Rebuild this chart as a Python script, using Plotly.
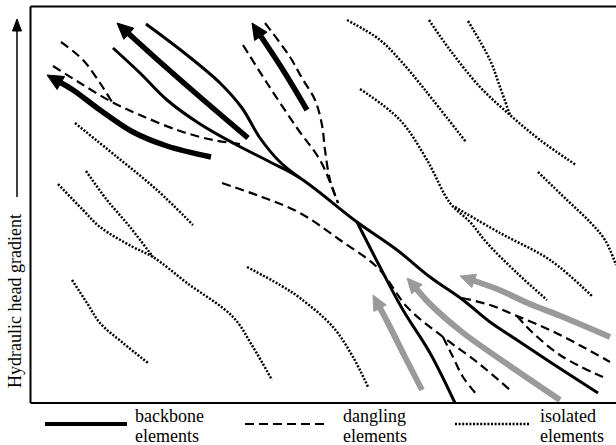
import math
import plotly.graph_objects as go

# ---------------- data (schematic coordinates, image pixel space) ----------------
# backbone elements (solid thin black)
bb_upper_x = [146, 187, 220, 242, 260, 280, 300]
bb_upper_y = [24, 55, 83, 108, 138, 162, 178]
bb_main_x = [113, 140, 167, 200, 233, 270, 300, 357, 397, 430, 463, 490, 517, 547, 598]
bb_main_y = [48, 73, 100, 124, 143, 162, 178, 222, 250, 277, 300, 322, 340, 360, 393]
bb_branch_x = [357, 380, 403, 430, 455]
bb_branch_y = [222, 267, 310, 353, 403]

# backbone flow arrows (thick black), last point = arrow tip
flow1_x = [248, 200, 160, 117]
flow1_y = [138, 97, 62, 23]
flow2_x = [307, 283, 252]
flow2_y = [110, 70, 23]
flow3_x = [211, 167, 133, 100, 73, 47]
flow3_y = [157, 146, 132, 110, 90, 75]

# inflow arrows (grey), last point = arrow tip
grey1_x = [610, 563, 530, 497, 460]
grey1_y = [337, 317, 304, 289, 276]
grey2_x = [560, 510, 462, 430, 407]
grey2_y = [400, 366, 332, 304, 278]
grey3_x = [422, 404, 389, 373]
grey3_y = [390, 355, 325, 295]

# dangling elements (dashed)
dang = [
    ([61, 83, 100, 112], [42, 60, 83, 102]),
    ([53, 80, 110, 140, 180, 213, 240], [66, 83, 101, 115, 131, 140, 144]),
    ([243, 267, 297, 320, 332, 338], [45, 83, 128, 160, 187, 203]),
    ([265, 290, 302, 315, 322, 325, 330, 338], [23, 57, 78, 100, 125, 150, 180, 203]),
    ([222, 262, 300, 340, 378, 408, 443, 477, 510], [183, 197, 213, 240, 268, 308, 337, 362, 390]),
    ([443, 453, 463, 477], [337, 357, 377, 395]),
    ([462, 490, 517, 550, 583, 610], [298, 305, 316, 330, 347, 362]),
    ([517, 533, 563, 603], [316, 333, 357, 377]),
]

# isolated elements (dotted)
isol = [
    ([347, 380, 400, 417, 433, 466], [20, 40, 60, 80, 100, 142]),
    ([429, 450, 480, 510, 540, 576], [20, 50, 87, 115, 140, 165]),
    ([468, 490, 500, 510], [21, 60, 87, 115]),
    ([360, 400, 427, 450, 470, 487, 517, 547], [89, 120, 160, 203, 222, 243, 273, 300]),
    ([455, 500, 550, 593], [207, 233, 260, 297]),
    ([538, 567, 590, 605, 616], [172, 200, 222, 240, 265]),
    ([75, 117, 157, 193], [123, 157, 190, 225]),
    ([86, 107, 130, 153], [171, 200, 227, 257]),
    ([58, 83, 100, 133, 153, 187, 233, 253, 272], [184, 210, 227, 247, 257, 283, 317, 347, 380]),
    ([72, 87, 100, 123, 148], [280, 303, 323, 343, 363]),
    ([247, 280, 300, 333, 353, 368], [267, 285, 298, 327, 357, 387]),
]

legend_labels = ["backbone", "dangling", "isolated"]
legend_sub = "elements"
y_title = "Hydraulic head gradient"

# ---------------- figure ----------------
fig = go.Figure()
FONT = "Liberation Serif, Times New Roman, Times, serif"
BLACK = "#000000"
GREY = "#9a9a9a"


def curve(x, y, color, width, dash="solid"):
    fig.add_trace(go.Scatter(x=x, y=y, mode="lines", hoverinfo="skip",
                             line=dict(color=color, width=width, dash=dash,
                                       shape="spline", smoothing=1.0)))


def arrow(x, y, color, width, L, W):
    tx, ty = x[-1], y[-1]
    dx, dy = tx - x[-2], ty - y[-2]
    n = math.hypot(dx, dy)
    ux, uy = dx / n, dy / n
    bx, by = tx - ux * L, ty - uy * L
    # shorten the shaft so it hides under the head
    sx = list(x[:-1]) + [tx - ux * L * 0.6]
    sy = list(y[:-1]) + [ty - uy * L * 0.6]
    curve(sx, sy, color, width)
    px, py = -uy, ux
    fig.add_trace(go.Scatter(
        x=[tx, bx + px * W, bx - px * W, tx], y=[ty, by + py * W, by - py * W, ty],
        mode="lines", fill="toself", fillcolor=color, hoverinfo="skip",
        line=dict(color=color, width=1)))


DASH = "9px,5px"
DOT = "2px,1.6px"

for x, y in isol:
    curve(x, y, BLACK, 2.5, DOT)
for x, y in dang:
    curve(x, y, BLACK, 2.2, DASH)

curve(bb_upper_x, bb_upper_y, BLACK, 3)
curve(bb_main_x, bb_main_y, BLACK, 3)
curve(bb_branch_x, bb_branch_y, BLACK, 3)

arrow(flow1_x, flow1_y, BLACK, 5.5, 16, 7.5)
arrow(flow2_x, flow2_y, BLACK, 5.5, 16, 7.5)
arrow(flow3_x, flow3_y, BLACK, 5.5, 16, 7.5)

arrow(grey1_x, grey1_y, GREY, 6, 15, 7)
arrow(grey2_x, grey2_y, GREY, 6, 15, 7)
arrow(grey3_x, grey3_y, GREY, 6, 15, 7)

# frame
shapes = [
    dict(type="line", x0=30.5, y0=6.5, x1=616, y1=6.5, line=dict(color=BLACK, width=2)),
    dict(type="line", x0=30.5, y0=6.5, x1=30.5, y1=403, line=dict(color=BLACK, width=2)),
    dict(type="line", x0=30.5, y0=403, x1=616, y1=403, line=dict(color=BLACK, width=2)),
    # y-axis arrow shaft
    dict(type="line", x0=17, y0=197, x1=17, y1=30, line=dict(color=BLACK, width=1.5)),
    dict(type="path", path="M 17 19 L 12.5 31 L 21.5 31 Z", fillcolor=BLACK,
         line=dict(color=BLACK, width=1)),
]

# legend samples
leg_x0 = [45, 245, 455]
leg_x1 = [127, 328, 530]
leg_dash = ["solid", DASH, DOT]
leg_w = [4, 2.2, 2.5]
leg_tx = [133, 341, 538]
for i in range(3):
    fig.add_trace(go.Scatter(x=[leg_x0[i], leg_x1[i]], y=[424, 424], mode="lines",
                             hoverinfo="skip",
                             line=dict(color=BLACK, width=leg_w[i], dash=leg_dash[i])))

annotations = []
for i in range(3):
    annotations.append(dict(x=leg_tx[i], y=416, text=legend_labels[i], showarrow=False,
                            xanchor="left", yanchor="middle",
                            font=dict(family=FONT, size=18, color=BLACK)))
    annotations.append(dict(x=leg_tx[i], y=436, text=legend_sub, showarrow=False,
                            xanchor="left", yanchor="middle",
                            font=dict(family=FONT, size=18, color=BLACK)))
annotations.append(dict(x=15, y=301, text=y_title, showarrow=False, textangle=-90,
                        xanchor="center", yanchor="middle",
                        font=dict(family=FONT, size=18, color=BLACK)))

fig.update_layout(
    width=616, height=445,
    margin=dict(l=0, r=0, t=0, b=0),
    paper_bgcolor="white", plot_bgcolor="white",
    showlegend=False,
    xaxis=dict(range=[0, 616], visible=False, fixedrange=True),
    yaxis=dict(range=[445, 0], visible=False, fixedrange=True),
    shapes=shapes, annotations=annotations,
)

fig.write_html(
    "out.html",
    config={"displayModeBar": False, "staticPlot": True},
    post_script="document.body.style.margin='0';document.body.style.padding='0';"
                "document.documentElement.style.overflow='hidden';",
)
